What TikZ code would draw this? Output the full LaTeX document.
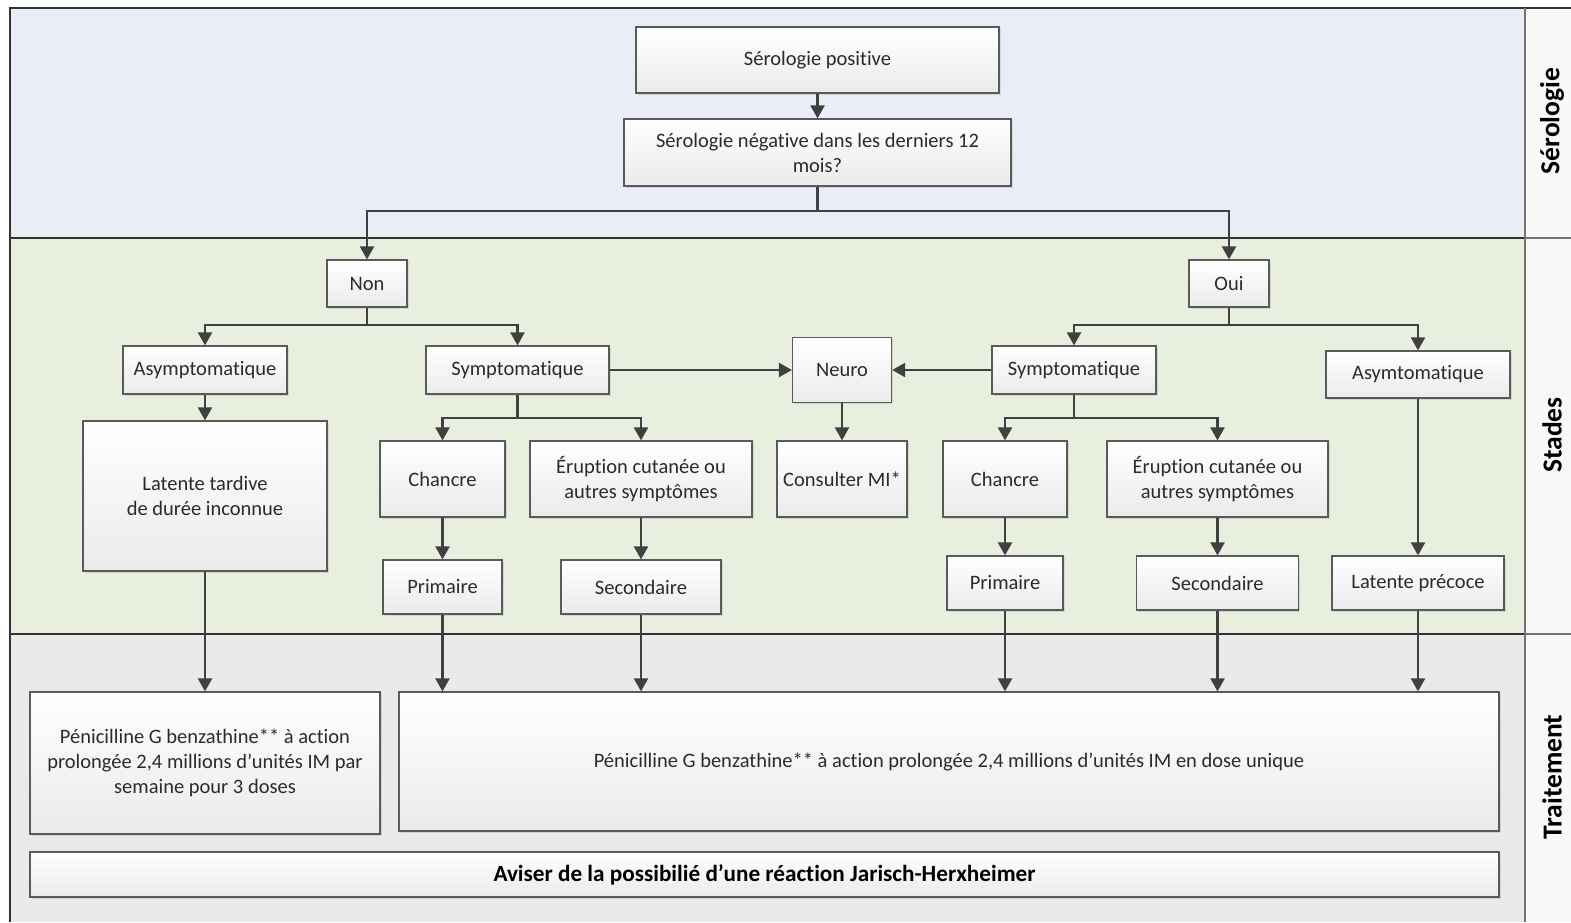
\documentclass[tikz,border=0pt]{standalone}
\usepackage{fontspec}
\setmainfont{Carlito}[Ligatures=NoCommon]
\usetikzlibrary{arrows.meta,shadows,calc}
\definecolor{laneblue}{HTML}{E9EDF6}
\definecolor{lanegreen}{HTML}{E9EFDE}
\definecolor{lanegray}{HTML}{EAEAEA}
\definecolor{labelcol}{HTML}{F8F8F8}
\definecolor{edge}{HTML}{5A5A5A}
\definecolor{conn}{HTML}{404040}
\definecolor{txt}{HTML}{2B2B2B}
\begin{document}
\begin{tikzpicture}[x=1pt,y=-1pt,
  box/.style={draw=edge, line width=1.2pt, top color=white, bottom color=black!8,
    drop shadow={opacity=0.22,shadow xshift=1.5pt,shadow yshift=-1.5pt},
    inner sep=0pt, align=center, font=\fontsize{20.5}{25}\selectfont, text=txt},
  arr/.style={draw=conn, line width=2.2pt, -{Triangle[width=14pt,length=13pt]}},
  ln/.style={draw=conn, line width=2.2pt},
  lanelabel/.style={rotate=90, font=\bfseries\fontsize{27.5}{30}\selectfont, text=black},
  frame/.style={draw=black!80, line width=1.5pt},
  sep/.style={draw=black!55, line width=1.5pt}]
\useasboundingbox (0,0) rectangle (1571,922);
% lanes
\fill[laneblue] (10,8) rectangle (1525,238);
\fill[lanegreen] (10,238) rectangle (1525,634);
\fill[lanegray] (10,634) rectangle (1525,922);
\fill[labelcol] (1525,8) rectangle (1571,922);
\draw[frame] (10,922) -- (10,8) -- (1571,8);
\draw[frame] (10,238) -- (1525,238);
\draw[frame] (10,634) -- (1525,634);
\draw[sep] (1525,8) -- (1525,922);
\draw[sep] (1525,238) -- (1571,238);
\draw[sep] (1525,634) -- (1571,634);
\node[lanelabel] (lsero) at (1552,121) {Sérologie};
\node[lanelabel] (lstad) at (1552,435) {Stades};
\node[lanelabel] (ltrai) at (1552,777) {Traitement};
% nodes
\node[box, minimum width=363, minimum height=66] (sp) at (817.5,60) {Sérologie positive};
\node[box, minimum width=387, minimum height=67] (sn) at (817.5,152.5) {Sérologie négative dans les derniers 12\\mois?};
\node[box, minimum width=80, minimum height=47] (non) at (367,283.5) {Non};
\node[box, minimum width=80, minimum height=47] (oui) at (1229,283.5) {Oui};
\node[box, minimum width=164, minimum height=48] (asyN) at (205,370) {Asymptomatique};
\node[box, minimum width=183, minimum height=48] (symN) at (517.5,370) {Symptomatique};
\node[box, minimum width=99, minimum height=65] (neuro) at (842,370) {Neuro};
\node[box, minimum width=164, minimum height=48] (symO) at (1074,370) {Symptomatique};
\node[box, minimum width=184, minimum height=47] (asyO) at (1418,374.5) {Asymtomatique};
\node[box, minimum width=244, minimum height=150] (latT) at (205,496) {Latente tardive\\de durée inconnue};
\node[box, minimum width=125, minimum height=76] (chN) at (442.5,479) {Chancre};
\node[box, minimum width=222, minimum height=76] (erN) at (641,479) {Éruption cutanée ou\\autres symptômes};
\node[box, minimum width=130, minimum height=76] (cons) at (842,479) {Consulter MI*};
\node[box, minimum width=124, minimum height=76] (chO) at (1005,479) {Chancre};
\node[box, minimum width=221, minimum height=76] (erO) at (1217.5,479) {Éruption cutanée ou\\autres symptômes};
\node[box, minimum width=119, minimum height=54] (priN) at (442.5,587) {Primaire};
\node[box, minimum width=160, minimum height=54] (secN) at (641,587) {Secondaire};
\node[box, minimum width=116, minimum height=54] (priO) at (1005,583) {Primaire};
\node[box, minimum width=162, minimum height=54] (secO) at (1217.5,583) {Secondaire};
\node[box, minimum width=172, minimum height=54] (latP) at (1418,583) {Latente précoce};
\node[box, minimum width=350, minimum height=142] (penL) at (205,763) {Pénicilline G benzathine** à action\\prolongée 2,4 millions d’unités IM par\\semaine pour 3 doses};
\node[box, minimum width=1100, minimum height=139] (penR) at (949,761.5) {Pénicilline G benzathine** à action prolongée 2,4 millions d’unités IM en dose unique};
\node[box, minimum width=1469, minimum height=45, font=\bfseries\fontsize{23.2}{27}\selectfont, text=black] (avis) at (764.5,874.5) {Aviser de la possibilié d’une réaction Jarisch-Herxheimer};
% connectors
\draw[arr] (sp) -- (sn);
\coordinate (j0) at (817.5,211);
\draw[ln] (sn.south) -- (j0);
\draw[arr] (j0) -| (non.north);
\draw[arr] (j0) -| (oui.north);
\coordinate (j1) at (367,325);
\draw[ln] (non.south) -- (j1);
\draw[arr] (j1) -| (asyN.north);
\draw[arr] (j1) -| (symN.north);
\coordinate (j2) at (1229,325);
\draw[ln] (oui.south) -- (j2);
\draw[arr] (j2) -| (symO.north);
\draw[arr] (j2) -| (asyO.north);
\draw[arr] (asyN.south) -- (latT.north);
\coordinate (j3) at (517.5,418);
\draw[ln] (symN.south) -- (j3);
\draw[arr] (j3) -| (chN.north);
\draw[arr] (j3) -| (erN.north);
\coordinate (j4) at (1074,418);
\draw[ln] (symO.south) -- (j4);
\draw[arr] (j4) -| (chO.north);
\draw[arr] (j4) -| (erO.north);
\draw[arr] (symN.east) -- (neuro.west);
\draw[arr] (symO.west) -- (neuro.east);
\draw[arr] (neuro.south) -- (cons.north);
\draw[arr] (chN.south) -- (priN.north);
\draw[arr] (erN.south) -- (secN.north);
\draw[arr] (chO.south) -- (priO.north);
\draw[arr] (erO.south) -- (secO.north);
\draw[arr] (asyO.south) -- (latP.north);
\draw[arr] (latT.south) -- (penL.north);
\draw[arr] (priN.south) -- (priN.south |- penR.north);
\draw[arr] (secN.south) -- (secN.south |- penR.north);
\draw[arr] (priO.south) -- (priO.south |- penR.north);
\draw[arr] (secO.south) -- (secO.south |- penR.north);
\draw[arr] (latP.south) -- (latP.south |- penR.north);
\end{tikzpicture}
\end{document}
